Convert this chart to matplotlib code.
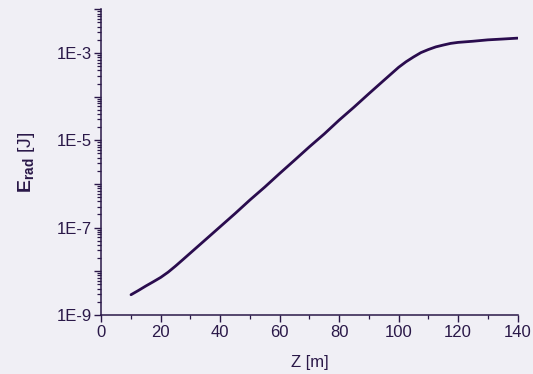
"""Radiated energy growth along the undulator, log scale."""
import numpy as np
import matplotlib
matplotlib.use("Agg")
import matplotlib.pyplot as plt
from matplotlib.ticker import FixedLocator, FuncFormatter, LogLocator, NullFormatter

BG = "#f0eff5"
INK = "#2a1848"
LINE = "#2a0c4e"

z_m = [10, 12.5, 15, 17.5, 20, 22.5, 25, 27.5, 30, 35, 40, 45, 50, 55, 60,
       65, 70, 75, 80, 85, 90, 95, 100, 102.5, 105, 107.5, 110, 112.5, 115,
       117.5, 120, 125, 130, 135, 140]
e_rad_J = [2.9e-9, 3.63e-9, 4.6e-9, 5.75e-9, 7.24e-9, 9.55e-9, 1.32e-8,
           1.86e-8, 2.63e-8, 5.25e-8, 1.05e-7, 2.1e-7, 4.3e-7, 8.5e-7,
           1.74e-6, 3.5e-6, 7.1e-6, 1.4e-5, 2.9e-5, 5.75e-5, 1.17e-4,
           2.35e-4, 4.7e-4, 6.3e-4, 8.1e-4, 1.02e-3, 1.2e-3, 1.38e-3, 1.52e-3,
           1.66e-3, 1.75e-3, 1.86e-3, 2.0e-3, 2.09e-3, 2.19e-3]

plt.rcParams["font.family"] = ["Liberation Sans", "DejaVu Sans"]
plt.rcParams["mathtext.fontset"] = "custom"
plt.rcParams["mathtext.rm"] = "Liberation Sans"
plt.rcParams["mathtext.bf"] = "Liberation Sans:bold"

fig = plt.figure(figsize=(5.33, 3.74), dpi=100)
fig.patch.set_facecolor(BG)
ax = fig.add_axes([0.190, 0.158, 0.781, 0.817])
ax.set_facecolor(BG)

ax.plot(z_m, e_rad_J, color=LINE, lw=2.0, solid_capstyle="round",
        solid_joinstyle="round")

ax.set_yscale("log")
ax.set_xlim(0, 140)
ax.set_ylim(1e-9, 1e-2)

ax.set_xticks(np.arange(0, 141, 20))
ax.set_xticks(np.arange(10, 140, 20), minor=True)

ax.yaxis.set_major_locator(FixedLocator([10.0 ** k for k in range(-9, -1)]))
ax.yaxis.set_major_formatter(FuncFormatter(
    lambda v, _: f"1E{int(round(np.log10(v)))}" if int(round(np.log10(v))) % 2 else ""))
ax.yaxis.set_minor_locator(LogLocator(base=10, subs=np.arange(2, 10), numticks=20))
ax.yaxis.set_minor_formatter(NullFormatter())

for s in ("top", "right"):
    ax.spines[s].set_visible(False)
for s in ("left", "bottom"):
    ax.spines[s].set_color(INK)
    ax.spines[s].set_linewidth(1.1)

ax.tick_params(which="major", direction="out", length=5, width=1.0,
               color=INK, labelcolor=INK, labelsize=12, pad=2)
ax.tick_params(which="minor", direction="out", length=3, width=0.9, color=INK)

ax.set_xlabel("Z [m]", fontsize=12, color=INK, labelpad=11)
ax.set_ylabel(r"$\mathbf{E}_{\mathbf{rad}}$ [J]", fontsize=14, color=INK, labelpad=14)

fig.savefig("out.png", dpi=100, facecolor=BG)
